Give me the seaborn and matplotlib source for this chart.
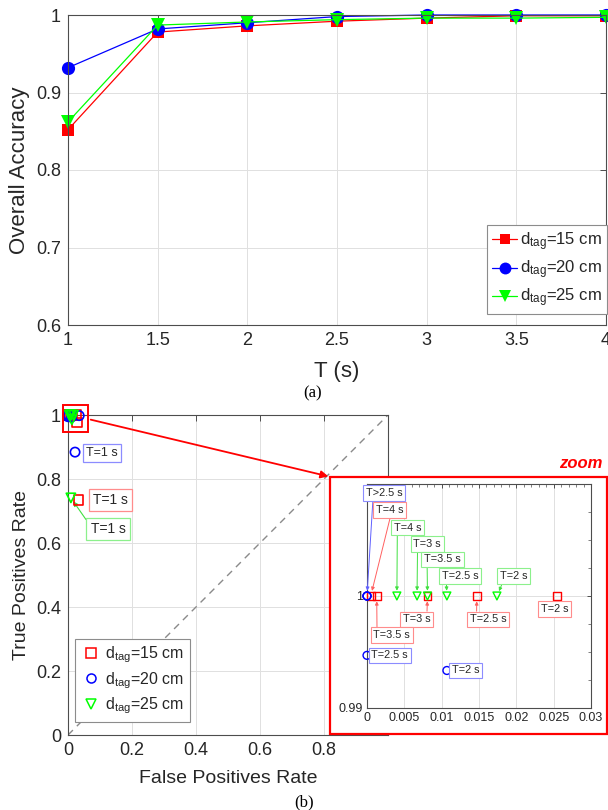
import matplotlib
matplotlib.use('Agg')
import matplotlib.pyplot as plt
import seaborn as sns
import pandas as pd
from matplotlib.lines import Line2D
from matplotlib.patches import Rectangle, FancyArrowPatch
from matplotlib.ticker import MultipleLocator

# ---------------- data ----------------
T_values = [1, 1.5, 2, 2.5, 3, 3.5, 4]
acc_d15 = [0.852, 0.978, 0.986, 0.992, 0.996, 0.999, 0.999]
acc_d20 = [0.932, 0.982, 0.990, 0.998, 1.000, 1.000, 1.000]
acc_d25 = [0.862, 0.987, 0.991, 0.994, 0.996, 0.996, 0.997]

roc_T = [1, 1.5, 2, 2.5, 3, 3.5, 4]
fpr_d15 = [0.032, 0.028, 0.0254, 0.0147, 0.0081, 0.0013, 0.0005]
tpr_d15 = [0.734, 0.976, 1.0, 1.0, 1.0, 1.0, 1.0]
fpr_d20 = [0.022, 0.035, 0.0107, 0.0, 0.0, 0.0, 0.0]
tpr_d20 = [0.884, 0.998, 0.99335, 0.9947, 1.0, 1.0, 1.0]
fpr_d25 = [0.009, 0.012, 0.0174, 0.0107, 0.0067, 0.0081, 0.0040]
tpr_d25 = [0.741, 0.985, 1.0, 1.0, 1.0, 1.0, 1.0]

series = ['15 cm', '20 cm', '25 cm']
legend_labels = [r'd$_{\mathrm{tag}}$=15 cm', r'd$_{\mathrm{tag}}$=20 cm', r'd$_{\mathrm{tag}}$=25 cm']
acc_ticks = [0.6, 0.7, 0.8, 0.9, 1.0]
acc_ticklabels = ['0.6', '0.7', '0.8', '0.9', '1']
T_ticklabels = ['1', '1.5', '2', '2.5', '3', '3.5', '4']
roc_ticks = [0, 0.2, 0.4, 0.6, 0.8, 1.0]
roc_xticklabels = ['0', '0.2', '0.4', '0.6', '0.8', '']
roc_yticklabels = ['0', '0.2', '0.4', '0.6', '0.8', '1']
zoom_xticks = [0, 0.005, 0.01, 0.015, 0.02, 0.025, 0.03]
zoom_xticklabels = ['0', '0.005', '0.01', '0.015', '0.02', '0.025', '0.03']
zoom_yticks = [0.99, 1.0]
zoom_yticklabels = ['0.99', '1']

# ---------------- style ----------------
sns.set_theme(style='white')
plt.rcParams['font.family'] = ['Liberation Sans', 'DejaVu Sans']
plt.rcParams['mathtext.fontset'] = 'custom'
plt.rcParams['mathtext.rm'] = 'Liberation Sans'
plt.rcParams['mathtext.it'] = 'Liberation Sans:italic'
TXT = '#262626'
SPINE = '#4d4d4d'
GRID = '#e0e0e0'
palette = {'15 cm': '#ff0000', '20 cm': '#0000ff', '25 cm': '#00ff00'}
light = {'15 cm': '#ff8c8c', '20 cm': '#8c8cff', '25 cm': '#8cf08c'}
arrowc = {'15 cm': '#ff6060', '20 cm': '#6060ff', '25 cm': '#40e040'}
markers = {'15 cm': 's', '20 cm': 'o', '25 cm': 'v'}

W, H = 608, 810
fig = plt.figure(figsize=(W / 100, H / 100), dpi=100)


def fr(x0, y0, x1, y1):
    return [x0 / W, 1 - y1 / H, (x1 - x0) / W, (y1 - y0) / H]


def style_axes(ax, fs):
    for s in ax.spines.values():
        s.set_color(SPINE)
        s.set_linewidth(0.8)
    ax.tick_params(direction='in', top=True, right=True, length=4, width=0.7,
                   colors=SPINE, labelcolor=TXT, labelsize=fs, pad=5)
    ax.grid(True, color=GRID, lw=0.7)
    ax.set_axisbelow(True)


# ---------------- top: accuracy ----------------
ax1 = fig.add_axes(fr(68, 15, 606, 325))
df_acc = pd.DataFrame({
    'T': T_values * 3,
    'acc': acc_d15 + acc_d20 + acc_d25,
    'd': [series[0]] * 7 + [series[1]] * 7 + [series[2]] * 7,
})
sns.lineplot(data=df_acc, x='T', y='acc', hue='d', style='d', palette=palette,
             markers=markers, dashes=False, linewidth=0.9, markersize=9,
             markeredgewidth=0, legend=False, ax=ax1, clip_on=False)
msz = {'s': 8, 'o': 9.5, 'v': 9.5}
for ln in ax1.lines:
    m = ln.get_marker()
    if m in msz:
        ln.set_markersize(msz[m])
ax1.set_xlim(1, 4)
ax1.set_ylim(0.6, 1)
ax1.set_xticks(T_values)
ax1.set_xticklabels(T_ticklabels)
ax1.set_yticks(acc_ticks)
ax1.set_yticklabels(acc_ticklabels)
style_axes(ax1, 13)
ax1.set_xlabel('T (s)', fontsize=16, color=TXT, labelpad=9)
ax1.set_ylabel('Overall Accuracy', fontsize=16, color=TXT, labelpad=4)
h1 = [Line2D([], [], color=palette[s], marker=markers[s], ms=msz[markers[s]] * 0.9,
             mew=0, lw=0.9) for s in series]
leg1 = ax1.legend(h1, legend_labels, loc='upper left',
                  bbox_to_anchor=(487 / W, 1 - 225 / H), bbox_transform=fig.transFigure,
                  fancybox=False, edgecolor='#8c8c8c', framealpha=1, fontsize=12,
                  handlelength=1.5, handletextpad=0.2, labelspacing=0.35,
                  borderpad=0.3, borderaxespad=0)
leg1.get_frame().set_linewidth(0.8)

# ---------------- bottom: ROC ----------------
df_roc = pd.DataFrame({
    'T': roc_T * 3,
    'fpr': fpr_d15 + fpr_d20 + fpr_d25,
    'tpr': tpr_d15 + tpr_d20 + tpr_d25,
    'd': [series[0]] * 7 + [series[1]] * 7 + [series[2]] * 7,
})

ax2 = fig.add_axes(fr(68, 415, 388, 735))
ax2.plot([0, 1], [0, 1], ls=(0, (5, 4)), color='#8a8a8a', lw=1.0, zorder=1)


def hollow_scatter(ax, data, size, lw):
    sns.scatterplot(data=data, x='fpr', y='tpr', hue='d', style='d', palette=palette,
                    markers=markers, s=size, legend=False, ax=ax, clip_on=False,
                    zorder=4)
    pc = ax.collections[-1]
    fc = pc.get_facecolors()
    pc.set_edgecolors(fc)
    pc.set_facecolors('none')
    pc.set_linewidths(lw)


hollow_scatter(ax2, df_roc, 45, 1.2)
ax2.set_xlim(0, 1)
ax2.set_ylim(0, 1)
ax2.set_xticks(roc_ticks)
ax2.set_xticklabels(roc_xticklabels)
ax2.set_yticks(roc_ticks)
ax2.set_yticklabels(roc_yticklabels)
style_axes(ax2, 13)
ax2.set_xlabel('False Positives Rate', fontsize=14, color=TXT, labelpad=8)
ax2.set_ylabel('True Positives Rate', fontsize=14, color=TXT, labelpad=4)

# T=1 labels in the main ROC axes
d25_T1 = (fpr_d25[0], tpr_d25[0])
lab1 = f'T={roc_T[0]} s'
ax2.text(0.106, 0.881, lab1, fontsize=9, color=TXT, ha='center', va='center',
         bbox=dict(boxstyle='square,pad=0.25', fc='white', ec=light['20 cm'], lw=0.9))
ax2.text(0.134, 0.734, lab1, fontsize=10, color=TXT, ha='center', va='center',
         bbox=dict(boxstyle='square,pad=0.3', fc='white', ec=light['15 cm'], lw=0.9))
ax2.annotate(lab1, xy=d25_T1, xytext=(0.125, 0.644), fontsize=10, color=TXT,
             ha='center', va='center',
             bbox=dict(boxstyle='square,pad=0.3', fc='white', ec=light['25 cm'], lw=0.9),
             arrowprops=dict(arrowstyle='-|>', color=arrowc['25 cm'], lw=0.8,
                             mutation_scale=7, shrinkA=0, shrinkB=3, relpos=(0.0, 0.7)))

ax2.add_patch(Rectangle((-0.016, 0.947), 0.078, 0.084, fill=False, ec='red', lw=1.4,
                        clip_on=False, zorder=6))

# legend bottom
h2 = [Line2D([], [], ls='', marker=markers[s], mfc='none', mec=palette[s], mew=1.1, ms=6.5)
      for s in series]
leg2 = ax2.legend(h2, legend_labels, loc='upper left',
                  bbox_to_anchor=(75 / W, 1 - 639 / H), bbox_transform=fig.transFigure,
                  fancybox=False, edgecolor='#8c8c8c', framealpha=1, fontsize=11.5,
                  handlelength=1.3, handletextpad=0.25, labelspacing=0.3,
                  borderpad=0.35, borderaxespad=0)
leg2.get_frame().set_linewidth(0.8)

# zoom frame and arrow (figure level)
zbox = Rectangle((330 / W, 1 - 734 / H), 277 / W, 257 / H, transform=fig.transFigure,
                 fc='white', ec='red', lw=1.6, zorder=1)
fig.add_artist(zbox)
fig.add_artist(FancyArrowPatch((88 / W, 1 - 419 / H), (331 / W, 1 - 477 / H),
                               transform=fig.transFigure, arrowstyle='-|>',
                               mutation_scale=11, color='red', lw=1.3, zorder=3))
fig.text(602 / W, 1 - 464 / H, 'zoom', color='red', fontsize=12, fontweight='bold',
         fontstyle='italic', ha='right', va='center')

# inset axes
ax3 = fig.add_axes(fr(367, 484, 591, 708))
ax3.set_zorder(2)
df_in = df_roc[(df_roc['fpr'] <= 0.03) & (df_roc['tpr'] >= 0.99)]
hollow_scatter(ax3, df_in, 32, 1.0)
ax3.set_xlim(0, 0.03)
ax3.set_ylim(0.99, 1.01)
ax3.set_xticks(zoom_xticks)
ax3.set_xticklabels(zoom_xticklabels)
ax3.set_yticks(zoom_yticks)
ax3.set_yticklabels(zoom_yticklabels)
ax3.xaxis.set_minor_locator(MultipleLocator(0.001))
ax3.yaxis.set_minor_locator(MultipleLocator(0.0025))
style_axes(ax3, 9)
ax3.tick_params(which='minor', direction='in', top=True, right=True, length=2,
                width=0.5, colors=SPINE)
ax3.tick_params(length=3, pad=3)
ax3.grid(True, which='major', color=GRID, lw=0.7)
ax3.set_xlabel('')
ax3.set_ylabel('')

fpr = {'15 cm': fpr_d15, '20 cm': fpr_d20, '25 cm': fpr_d25}
tpr = {'15 cm': tpr_d15, '20 cm': tpr_d20, '25 cm': tpr_d25}

# (series, index into T, label text, label position, arrow start relpos or None)
inset_notes = [
    ('20 cm', 4, 'T>2.5 s', (0.00233, 1.0092), (0.19, 0)),
    ('15 cm', 6, None, (0.0030, 1.00766), (0.55, 0)),
    ('25 cm', 6, None, (0.00546, 1.00611), (0.12, 0)),
    ('25 cm', 4, None, (0.00806, 1.00463), (0.15, 0)),
    ('25 cm', 5, None, (0.01012, 1.00326), (0.08, 0)),
    ('25 cm', 3, None, (0.01249, 1.00178), (0.12, 0)),
    ('25 cm', 2, None, (0.01965, 1.00178), (0.12, 0)),
    ('15 cm', 4, None, (0.00662, 0.99792), (0.88, 1)),
    ('15 cm', 5, None, (0.00331, 0.99653), (0.1, 1)),
    ('15 cm', 3, None, (0.0162, 0.99792), (0.19, 1)),
    ('15 cm', 2, None, (0.02511, 0.99884), None),
    ('20 cm', 3, None, (0.00304, 0.99469), None),
    ('20 cm', 2, None, (0.01316, 0.99335), None),
]
for s, i, txt, pos, rp in inset_notes:
    label = txt if txt else f'T={roc_T[i]:g} s'
    bb = dict(boxstyle='square,pad=0.25', fc='white', ec=light[s], lw=0.8)
    if rp is None:
        ax3.text(pos[0], pos[1], label, fontsize=7.8, color=TXT, ha='center',
                 va='center', bbox=bb, zorder=5)
    else:
        ax3.annotate(label, xy=(fpr[s][i], tpr[s][i]), xytext=pos, fontsize=7.8,
                     color=TXT, ha='center', va='center', bbox=bb, zorder=5,
                     annotation_clip=False,
                     arrowprops=dict(arrowstyle='-|>', color=arrowc[s], lw=0.7,
                                     mutation_scale=5, shrinkA=0, shrinkB=3.8,
                                     relpos=rp))

# panel captions
fig.text(313 / W, 1 - 393 / H, '(a)', family=['Liberation Serif', 'DejaVu Serif'],
         fontsize=12, color='black', ha='center', va='center')
fig.text(304 / W, 1 - 802 / H, '(b)', family=['Liberation Serif', 'DejaVu Serif'],
         fontsize=12, color='black', ha='center', va='center')

fig.savefig('out.png', dpi=100)
